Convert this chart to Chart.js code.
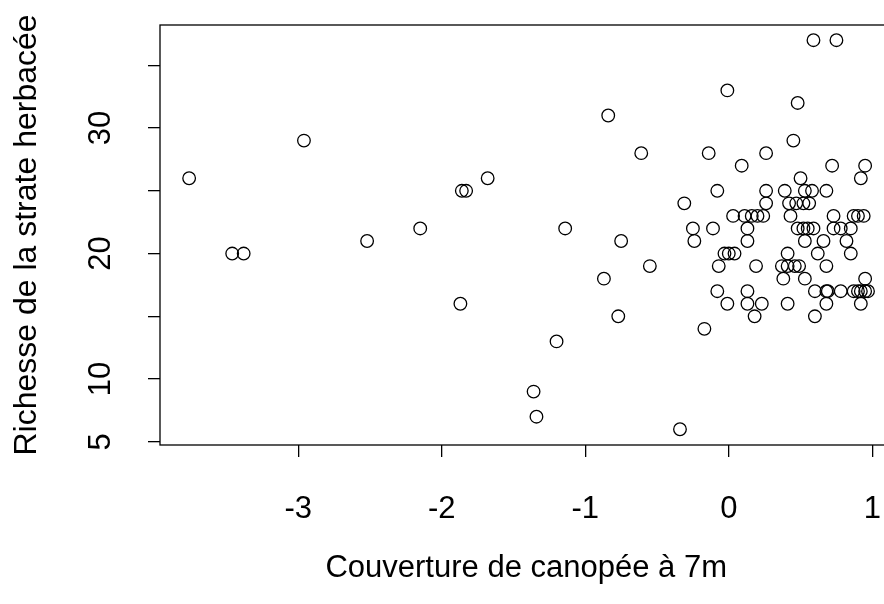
<!DOCTYPE html>
<html>
<head>
<meta charset="utf-8">
<script src="https://cdn.jsdelivr.net/npm/chart.js@4"></script>
<style>
    html, body { margin: 0; padding: 0; background: #fff; overflow: hidden; }
    #graphique { display: block; width: 900px; height: 604px; }
</style>
</head>
<body>
<canvas id="graphique" width="900" height="604"></canvas>
<script>
// Données
const canopee = [
    -3.76, -2.96, -3.46, -3.38, -2.52, -2.15, -1.87, -1.86, -1.83, -1.68,
    -1.14, -1.20, -1.36, -1.34, -0.84, -0.61, -0.87, -0.75, -0.77, -0.55,
    -0.34, -0.31, -0.25, -0.24, -0.17, -0.14, -0.11, -0.08, -0.08, -0.07,
    -0.01, -0.01, -0.03, 0.00, 0.04, 0.03, 0.09, 0.11, 0.13, 0.13,
    0.13, 0.13, 0.16, 0.19, 0.18, 0.20, 0.23, 0.24, 0.26, 0.26,
    0.26, 0.37, 0.38, 0.39, 0.41, 0.41, 0.42, 0.43, 0.45, 0.47,
    0.41, 0.46, 0.48, 0.48, 0.50, 0.49, 0.52, 0.52, 0.53, 0.53,
    0.53, 0.55, 0.56, 0.58, 0.59, 0.59, 0.60, 0.60, 0.62, 0.66,
    0.68, 0.68, 0.68, 0.69, 0.68, 0.72, 0.73, 0.73, 0.75, 0.78,
    0.78, 0.82, 0.85, 0.85, 0.87, 0.87, 0.90, 0.90, 0.92, 0.92,
    0.92, 0.94, 0.95, 0.95, 0.95, 0.97
];
const richesse = [
    26, 29, 20, 20, 21, 22, 16, 25, 25, 26,
    22, 13, 9, 7, 31, 28, 18, 21, 15, 19,
    6, 24, 22, 21, 14, 28, 22, 25, 17, 19,
    16, 33, 20, 20, 20, 23, 27, 23, 22, 21,
    17, 16, 23, 19, 15, 23, 16, 23, 28, 25,
    24, 19, 18, 25, 20, 16, 24, 23, 29, 24,
    19, 19, 32, 22, 26, 19, 24, 22, 21, 18,
    25, 22, 24, 25, 22, 37, 17, 15, 20, 21,
    25, 19, 17, 17, 16, 27, 23, 22, 37, 22,
    17, 21, 20, 22, 23, 17, 23, 17, 26, 16,
    17, 23, 27, 18, 17, 17
];
const ticksX = [-3, -2, -1, 0, 1];
const ticksY = [5, 10, 15, 20, 25, 30, 35];
const etiquettesY = [5, 10, 20, 30];

const police = "'Liberation Sans', Arial, sans-serif";

// cadre du graphique (comme plot() de R) et étiquettes verticales de l'axe y
const pluginCadre = {
    id: 'cadre',
    beforeDatasetsDraw(chart) {
        const { ctx, chartArea: a } = chart;
        ctx.save();
        ctx.strokeStyle = '#000';
        ctx.lineWidth = 1.3;
        ctx.strokeRect(a.left, a.top, a.right - a.left, a.bottom - a.top);
        ctx.restore();
    },
    afterDraw(chart) {
        const { ctx } = chart;
        const echelleY = chart.scales.y;
        ctx.save();
        ctx.fillStyle = '#000';
        ctx.font = '31px ' + police;
        ctx.textAlign = 'center';
        ctx.textBaseline = 'middle';
        etiquettesY.forEach(v => {
            ctx.save();
            ctx.translate(101, echelleY.getPixelForValue(v));
            ctx.rotate(-Math.PI / 2);
            ctx.fillText(String(v), 0, 0);
            ctx.restore();
        });
        ctx.restore();
    }
};

const points = canopee.map((x, i) => ({ x: x, y: richesse[i] }));

// le canevas (900 px) dépasse la fenêtre : le bord droit du cadre est coupé, comme dans l'original
new Chart(document.getElementById('graphique'), {
    type: 'scatter',
    data: {
        datasets: [{
            data: points,
            pointStyle: 'circle',
            pointRadius: 6.3,
            pointHoverRadius: 6.3,
            borderWidth: 1.3,
            borderColor: '#000',
            backgroundColor: 'rgba(0,0,0,0)'
        }]
    },
    options: {
        responsive: false,
        animation: false,
        events: [],
        layout: { padding: { left: 0, top: 25, right: 1, bottom: 0 } },
        plugins: { legend: { display: false }, tooltip: { enabled: false } },
        scales: {
            x: {
                type: 'linear',
                min: -3.963,
                max: 1.14,
                afterBuildTicks: s => { s.ticks = ticksX.map(v => ({ value: v })); },
                afterFit: s => { s.height = 159; s.paddingLeft = 0; s.paddingRight = 0; },
                border: { display: false },
                grid: { drawOnChartArea: false, drawTicks: true, tickLength: 12, color: '#000', lineWidth: 1.3 },
                ticks: {
                    color: '#000',
                    font: { family: police, size: 31 },
                    padding: 34,
                    maxRotation: 0,
                    autoSkip: false,
                    callback: v => String(v)
                },
                title: {
                    display: true,
                    text: 'Couverture de canopée à 7m',
                    color: '#000',
                    font: { family: police, size: 31 },
                    padding: { top: 0, bottom: 17 }
                }
            },
            y: {
                type: 'linear',
                min: 4.745,
                max: 38.21,
                afterBuildTicks: s => { s.ticks = ticksY.map(v => ({ value: v })); },
                afterFit: s => { s.width = 160; s.paddingTop = 0; s.paddingBottom = 0; },
                border: { display: false },
                grid: { drawOnChartArea: false, drawTicks: true, tickLength: 12, color: '#000', lineWidth: 1.3 },
                ticks: { display: false },
                title: {
                    display: true,
                    text: 'Richesse de la strate herbacée',
                    color: '#000',
                    font: { family: police, size: 32 },
                    padding: { top: 8, bottom: 0 }
                }
            }
        }
    },
    plugins: [pluginCadre]
});
</script>
</body>
</html>
